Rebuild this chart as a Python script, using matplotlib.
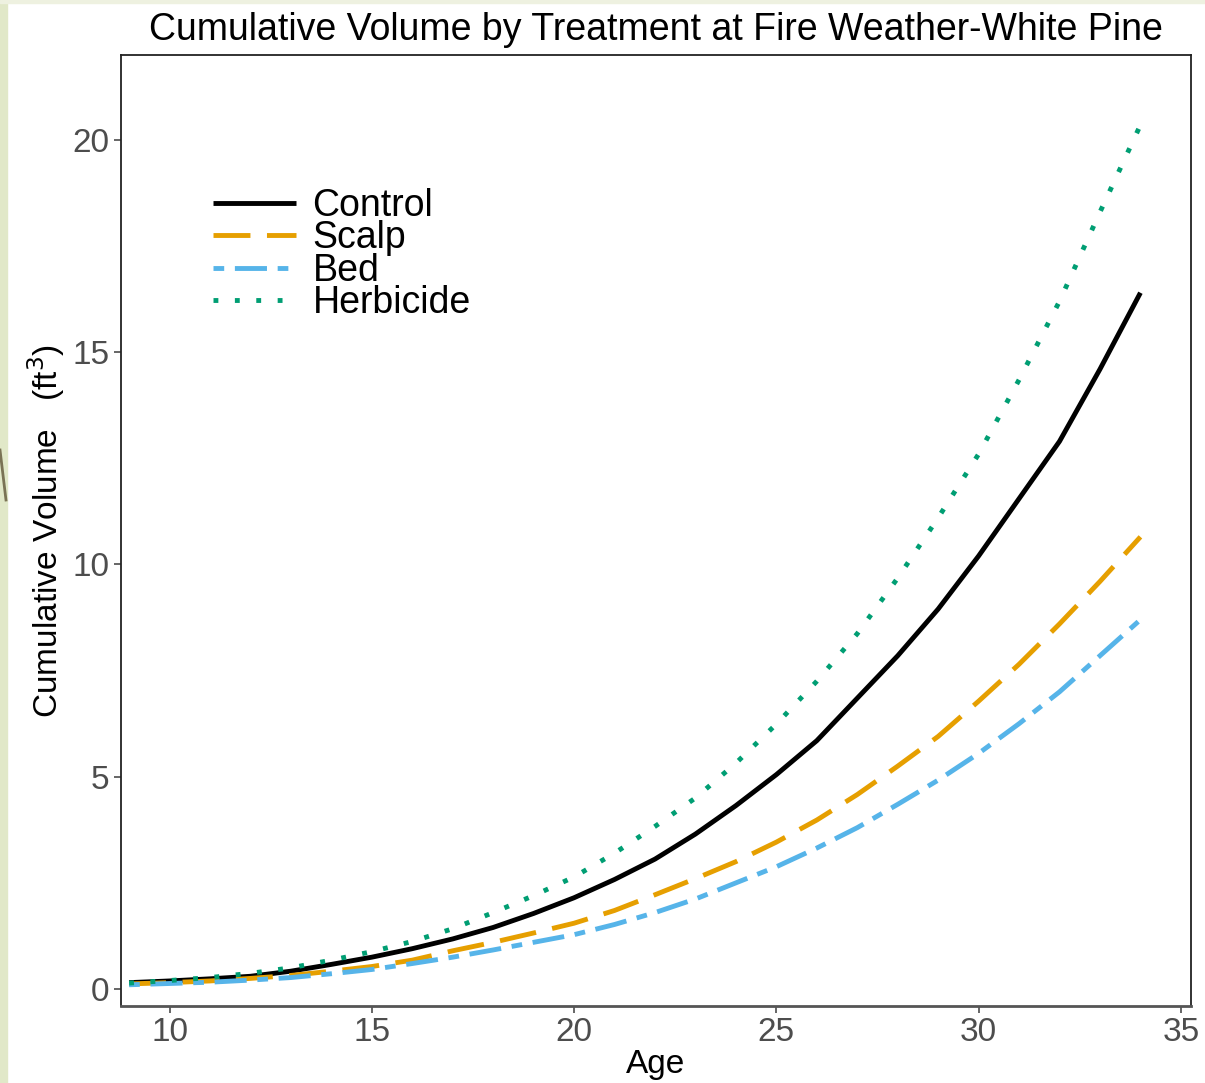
import matplotlib
matplotlib.use("Agg")
import matplotlib.pyplot as plt
from matplotlib.patches import Rectangle
from matplotlib.lines import Line2D

plt.rcParams['font.family'] = ['Liberation Sans', 'DejaVu Sans']

ages = list(range(9, 35))
control = [0.15, 0.19, 0.24, 0.30, 0.42, 0.58, 0.75, 0.95, 1.18, 1.45, 1.78, 2.15, 2.58,
           3.06, 3.65, 4.32, 5.05, 5.85, 6.85, 7.85, 8.95, 10.2, 11.55, 12.9, 14.6, 16.4]
scalp = [0.12, 0.15, 0.19, 0.25, 0.32, 0.42, 0.53, 0.68, 0.90, 1.10, 1.32, 1.55, 1.85,
         2.22, 2.60, 3.00, 3.46, 3.98, 4.58, 5.25, 5.95, 6.78, 7.65, 8.60, 9.60, 10.65]
bed = [0.10, 0.13, 0.16, 0.21, 0.27, 0.36, 0.46, 0.60, 0.75, 0.92, 1.10, 1.28, 1.52,
       1.80, 2.12, 2.50, 2.88, 3.32, 3.80, 4.35, 4.92, 5.55, 6.25, 7.00, 7.85, 8.70]
herbicide = [0.14, 0.20, 0.27, 0.37, 0.50, 0.68, 0.88, 1.12, 1.42, 1.80, 2.20, 2.64, 3.20,
             3.83, 4.50, 5.32, 6.24, 7.25, 8.37, 9.68, 11.1, 12.6, 14.35, 16.2, 18.3, 20.35]

labels = ["Control", "Scalp", "Bed", "Herbicide"]
colors = ["#000000", "#E69F00", "#56B4E9", "#009E73"]

fig = plt.figure(figsize=(12.05, 10.83), dpi=100)
# slide background strip on the left
fig.patches.append(Rectangle((0, 0), 7 / 1205, 1, transform=fig.transFigure,
                             color="#E1E8C8", zorder=0))
fig.patches.append(Rectangle((0, 1 - 3 / 1083), 1, 3 / 1083, transform=fig.transFigure,
                             color="#EEF1E0", zorder=0))
fig.lines.append(Line2D([0, 6 / 1205], [1 - 450 / 1083, 1 - 500 / 1083],
                        transform=fig.transFigure, color="#7A7355", lw=2))

ax = fig.add_axes([121 / 1205, 1 - 1006 / 1083, 1070 / 1205, 951 / 1083])

lw = 3.5
ax.plot(ages, control, color=colors[0], lw=lw, label=labels[0], solid_capstyle="butt")
ax.plot(ages, scalp, color=colors[1], lw=lw, label=labels[1], dashes=(7.6, 3.4))
ax.plot(ages, bed, color=colors[2], lw=lw, label=labels[2], dashes=(2.2, 2.2, 6.6, 2.2))
ax.plot(ages, herbicide, color=colors[3], lw=lw, label=labels[3], dashes=(1, 3.4))

ax.set_xlim(8.8, 35.25)
ax.set_ylim(-0.4, 22.0)
ax.set_xticks([10, 15, 20, 25, 30, 35])
ax.set_yticks([0, 5, 10, 15, 20])

ax.tick_params(axis="both", labelsize=24, labelcolor="#4D4D4D", color="#4D4D4D",
               length=5, width=1.2)
ax.tick_params(axis="x", pad=3)
for side in ["left", "top", "right"]:
    ax.spines[side].set_color("#222222")
    ax.spines[side].set_linewidth(1.3)
ax.spines["bottom"].set_color("#555555")
ax.spines["bottom"].set_linewidth(2)

ax.set_xlabel("Age", fontsize=24, labelpad=1)
ax.set_ylabel(r"Cumulative Volume   (ft$^3$)", fontsize=24, labelpad=4)
ax.set_title("Cumulative Volume by Treatment at Fire Weather-White Pine",
             fontsize=27, pad=11)

ax.legend(loc="upper left", bbox_to_anchor=(0.086, 0.86), frameon=False,
          fontsize=27, handlelength=2.2, handletextpad=0.45, labelspacing=-0.1,
          borderpad=0, borderaxespad=0)

fig.savefig("out.png", dpi=100)
